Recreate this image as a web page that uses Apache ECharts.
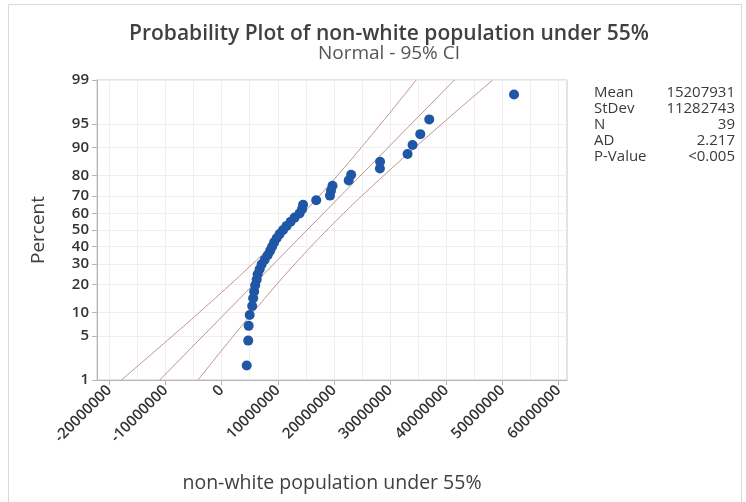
<!DOCTYPE html>
<html>
<head>
<meta charset="utf-8">
<script src="https://cdn.jsdelivr.net/npm/echarts@6/dist/echarts.min.js"></script>
<style>html,body{margin:0;padding:0;background:#fff}#c{width:746px;height:502px}</style>
</head>
<body>
<div id="c"></div>
<script>
// ---- data ----
const popValues = [
  4460000, 4730000, 4810000, 4990000, 5440000, 5610000, 5790000, 5970000, 6240000, 6410000,
  6770000, 7120000, 7660000, 8190000, 8630000, 8990000, 9340000, 9790000, 10320000, 10940000,
  11570000, 12280000, 12990000, 13870000, 14320000, 14500000, 16840000, 19290000, 19470000, 19740000,
  22630000, 23060000, 28180000, 28210000, 33110000, 34000000, 35370000, 36970000, 52070000
];
const fitPercents = [1, 99];
const fitValues = [-11036000, 41452000];
const ciPercents = [1, 2, 5, 10, 20, 30, 40, 50, 60, 70, 80, 90, 95, 98, 99];
const ciLower = [-17850000, -14210000, -8780000, -4030000, 1590000, 5510000, 8750000, 11670000, 14470000, 17350000, 20580000, 24890000, 28330000, 32140000, 34640000];
const ciUpper = [-4220000, -1720000, 2080000, 5530000, 9830000, 13070000, 15950000, 18750000, 21660000, 24900000, 28830000, 34450000, 39200000, 44630000, 48270000];
const yTickPercents = [1, 5, 10, 20, 30, 40, 50, 60, 70, 80, 90, 95, 99];
const xTickValues = [-20000000, -10000000, 0, 10000000, 20000000, 30000000, 40000000, 50000000, 60000000];
const xGridValues = [-20000000, -15000000, -10000000, -5000000, 0, 5000000, 10000000, 15000000, 20000000, 25000000, 30000000, 35000000, 40000000, 45000000, 50000000, 55000000, 60000000];
const statLabels = ['Mean', 'StDev', 'N', 'AD', 'P-Value'];
const statValues = ['15207931', '11282743', '39', '2.217', '<0.005'];

// inverse standard normal (probability-scale axis transform)
function normInv(p) {
  const a = [-3.969683028665376e+01, 2.209460984245205e+02, -2.759285104469687e+02, 1.383577518672690e+02, -3.066479806614716e+01, 2.506628277459239e+00];
  const b = [-5.447609879822406e+01, 1.615858368580409e+02, -1.556989798598866e+02, 6.680131188771972e+01, -1.328068155288572e+01];
  const c = [-7.784894002430293e-03, -3.223964580411365e-01, -2.400758277161838e+00, -2.549732539343734e+00, 4.374664141464968e+00, 2.938163982698783e+00];
  const d = [7.784695709041462e-03, 3.224671290700398e-01, 2.445134137142996e+00, 3.754408661907416e+00];
  const pl = 0.02425;
  let q, r;
  if (p < pl) {
    q = Math.sqrt(-2 * Math.log(p));
    return (((((c[0]*q+c[1])*q+c[2])*q+c[3])*q+c[4])*q+c[5]) / ((((d[0]*q+d[1])*q+d[2])*q+d[3])*q+1);
  } else if (p <= 1 - pl) {
    q = p - 0.5; r = q*q;
    return (((((a[0]*r+a[1])*r+a[2])*r+a[3])*r+a[4])*r+a[5])*q / (((((b[0]*r+b[1])*r+b[2])*r+b[3])*r+b[4])*r+1);
  } else {
    q = Math.sqrt(-2 * Math.log(1 - p));
    return -(((((c[0]*q+c[1])*q+c[2])*q+c[3])*q+c[4])*q+c[5]) / ((((d[0]*q+d[1])*q+d[2])*q+d[3])*q+1);
  }
}
const zOf = pct => normInv(pct / 100);

const n = popValues.length;
const pointData = popValues.map((v, i) => [v, zOf((i + 1 - 0.3) / (n + 0.4) * 100)]);
const fitData = fitPercents.map((p, i) => [fitValues[i], zOf(p)]);
const lowData = ciPercents.map((p, i) => [ciLower[i], zOf(p)]);
const upData = ciPercents.map((p, i) => [ciUpper[i], zOf(p)]);
const yTickZ = yTickPercents.map(zOf);

const FONT = 'Open Sans';
const chart = echarts.init(document.getElementById('c'));
const ciStyle = { color: '#c49190', width: 1 };
const xMin = -22200000, xMax = 61500000;

const graphics = [
  { type: 'rect', shape: { x: 8.5, y: 4.5, width: 733, height: 520 }, style: { fill: 'none', stroke: '#dadada', lineWidth: 1 }, silent: true }
];
statLabels.forEach((s, i) => {
  graphics.push({ type: 'text', left: 594, top: 85 + i * 16, style: { text: s, fontFamily: FONT, fontSize: 15, fill: '#3a3a3a' } });
  graphics.push({ type: 'text', right: 11, top: 85 + i * 16, style: { text: statValues[i], fontFamily: FONT, fontSize: 15, fill: '#3a3a3a', align: 'right' } });
});

chart.setOption({
  animation: false,
  backgroundColor: '#fff',
  title: [{
    text: 'Probability Plot of non-white population under 55%',
    left: 384, top: 19, textAlign: 'center',
    textStyle: { fontFamily: FONT, fontSize: 21, fontWeight: 600, color: '#404040' }
  }, {
    text: 'Normal - 95% CI',
    left: 384, top: 39, textAlign: 'center',
    textStyle: { fontFamily: FONT, fontSize: 19, fontWeight: 500, color: '#555555' }
  }],
  graphic: graphics,
  grid: { left: 97, top: 80, right: 179, bottom: 122, show: true, borderColor: '#c8c8c8', borderWidth: 1, backgroundColor: 'transparent' },
  xAxis: [{
    type: 'value', min: xMin, max: xMax,
    name: 'non-white population under 55%', nameLocation: 'middle', nameGap: 93,
    nameTextStyle: { fontFamily: FONT, fontSize: 19.5, color: '#404040' },
    axisLine: { show: true, onZero: false, lineStyle: { color: '#b5b5b5' } },
    axisTick: { show: true, customValues: xTickValues, length: 5, lineStyle: { color: '#b5b5b5' } },
    axisLabel: { customValues: xTickValues, rotate: 45, margin: 8, fontFamily: FONT, fontSize: 15, fontWeight: 600, color: '#333333', formatter: v => String(Math.round(v)) },
    splitLine: { show: false }
  }, {
    type: 'value', min: xMin, max: xMax, position: 'bottom',
    axisLine: { show: false, onZero: false },
    axisTick: { show: false, customValues: xGridValues },
    axisLabel: { show: false, customValues: xGridValues },
    splitLine: { show: true, lineStyle: { color: '#efefef', width: 1 } }
  }],
  yAxis: {
    type: 'value', min: zOf(1), max: zOf(99),
    name: 'Percent', nameLocation: 'middle', nameGap: 49, nameRotate: 90,
    nameTextStyle: { fontFamily: FONT, fontSize: 19, color: '#404040' },
    axisLine: { show: true, onZero: false, lineStyle: { color: '#b5b5b5' } },
    axisTick: { show: true, customValues: yTickZ, length: 5, lineStyle: { color: '#b5b5b5' } },
    axisLabel: {
      customValues: yTickZ, margin: 8, fontFamily: FONT, fontSize: 15, fontWeight: 600, color: '#333333',
      formatter: v => { let best = 0; yTickZ.forEach((z, i) => { if (Math.abs(z - v) < Math.abs(yTickZ[best] - v)) best = i; }); return String(yTickPercents[best]); }
    },
    splitLine: { show: true, lineStyle: { color: '#efefef', width: 1 } }
  },
  series: [
    { type: 'line', data: lowData, smooth: true, symbol: 'none', lineStyle: ciStyle, silent: true, clip: true },
    { type: 'line', data: fitData, symbol: 'none', lineStyle: ciStyle, silent: true, clip: true },
    { type: 'line', data: upData, smooth: true, symbol: 'none', lineStyle: ciStyle, silent: true, clip: true },
    { type: 'scatter', data: pointData, symbolSize: 10, itemStyle: { color: '#1f56a6', opacity: 1 }, z: 5 }
  ]
});
</script>
</body>
</html>
